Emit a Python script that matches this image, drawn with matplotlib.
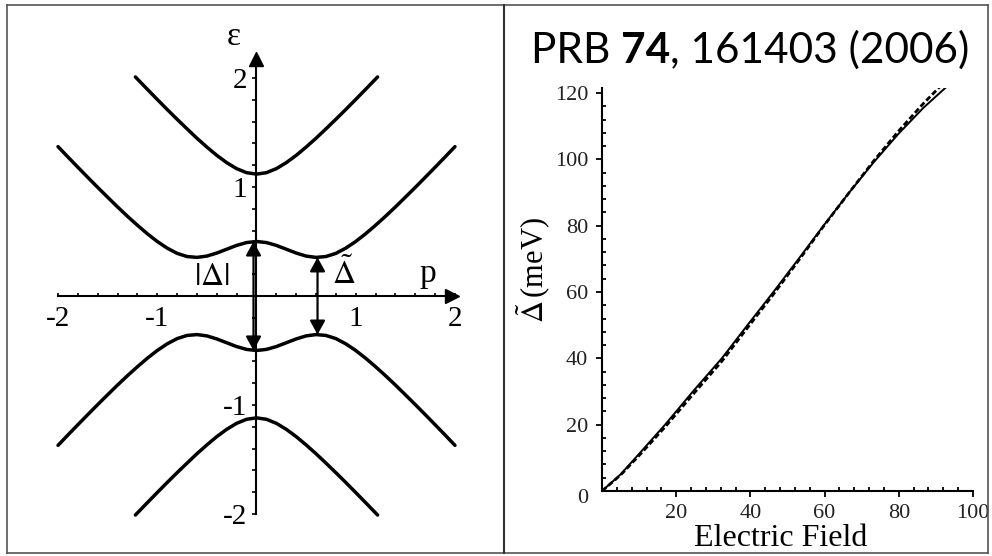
import numpy as np
import matplotlib
matplotlib.use("Agg")
import matplotlib.pyplot as plt
from matplotlib.ticker import MultipleLocator, FixedLocator

plt.rcParams['font.family'] = ['Liberation Serif', 'DejaVu Serif']
plt.rcParams['mathtext.fontset'] = 'stix'

# --- left panel: bands (p >= 0, curves are symmetric) ---
p_low = [0.0, 0.1, 0.2, 0.3, 0.4, 0.5, 0.6, 0.7, 0.8, 0.9, 1.0,
         1.1, 1.2, 1.3, 1.4, 1.5, 1.6, 1.7, 1.8, 1.9, 2.0]
eps_low = [0.500, 0.490, 0.464, 0.429, 0.394, 0.366, 0.354, 0.362, 0.391, 0.439, 0.500,
           0.571, 0.649, 0.731, 0.817, 0.906, 0.996, 1.088, 1.181, 1.275, 1.370]
p_high = [0.0, 0.1, 0.2, 0.3, 0.4, 0.5, 0.6, 0.7, 0.8, 0.9, 1.0, 1.1, 1.2, 1.22]
eps_high = [1.118, 1.131, 1.168, 1.223, 1.290, 1.366, 1.447, 1.533, 1.621, 1.711, 1.803,
            1.896, 1.990, 2.009]

gap_p0 = 0.5        # |Delta| at p = 0
gap_min = 0.354     # Delta tilde
p_min = 0.615

p_ticks = [-2, -1, 1, 2]
eps_ticks = [-2, -1, 1, 2]

# --- right panel: gap vs field ---
field_solid = [0, 5, 10, 17, 24.5, 32.3, 39.2, 46.2, 53, 59.7, 66.5, 73.3, 80, 86.6, 93.5]
gap_solid = [0, 5, 11.2, 20, 30, 40, 50, 60, 70, 80, 89.8, 99.2, 107.8, 115.5, 122.5]
field_dash = [0, 5, 10, 17, 24.5, 32.3, 39.2, 46.2, 53, 59.7, 66.5, 73.3, 80, 86.6, 92.5]
gap_dash = [0, 4.8, 10.7, 19.3, 29.1, 39.1, 49.2, 59.3, 69.5, 79.8, 89.8, 99.6, 108.6, 116.8, 123.5]

W, H = 992, 556
fig = plt.figure(figsize=(W / 100, H / 100), dpi=100)

# frame around everything + divider
col_frame = '#555555'
fig.add_artist(plt.Line2D([7 / W, 988 / W], [1 - 5 / H, 1 - 5 / H], color=col_frame, lw=1.2))
fig.add_artist(plt.Line2D([7 / W, 7 / W], [1 - 5 / H, 1 - 553 / H], color=col_frame, lw=1.2))
fig.add_artist(plt.Line2D([988 / W, 988 / W], [1 - 5 / H, 1 - 553 / H], color=col_frame, lw=1.2))
fig.add_artist(plt.Line2D([7 / W, 988 / W], [1 - 553 / H, 1 - 553 / H], color=col_frame, lw=1.2))
fig.add_artist(plt.Line2D([504 / W, 504 / W], [1 - 5 / H, 1 - 553 / H], color='#333333', lw=1.5))

# ---------------- left panel ----------------
ax = fig.add_axes([8 / W, 6 / H, 495 / W, 544 / H])
ax.set_xlim(-2.504, 2.484)
ax.set_ylim(-2.33, 2.66)
ax.patch.set_visible(False)
for s in ['top', 'right']:
    ax.spines[s].set_visible(False)
ax.spines['left'].set_position(('data', 0))
ax.spines['bottom'].set_position(('data', 0))
ax.spines['left'].set_bounds(-2, 2.12)
ax.spines['bottom'].set_bounds(-2, 1.92)
ax.spines['left'].set_linewidth(1.5)
ax.spines['bottom'].set_linewidth(1.5)
ax.plot(0, 2.17, marker='^', ms=10, color='k', clip_on=False)
ax.plot(1.97, 0, marker='>', ms=10, color='k', clip_on=False)

ax.xaxis.set_major_locator(FixedLocator(p_ticks))
ax.set_xticklabels([str(t) for t in p_ticks])
ax.xaxis.set_minor_locator(FixedLocator(np.arange(-2, 1.9, 0.2)))
ax.yaxis.set_major_locator(FixedLocator(eps_ticks))
ax.set_yticklabels([str(t) for t in eps_ticks])
ax.yaxis.set_minor_locator(FixedLocator(np.arange(-2, 2.1, 0.2)))
ax.tick_params(axis='x', which='both', direction='in', length=2.5, width=1.2,
               labelsize=21, pad=7)
ax.tick_params(axis='y', which='both', direction='out', length=3, width=1.2,
               labelsize=21, pad=4)

pl = np.array(p_low)
el = np.array(eps_low)
ph = np.array(p_high)
eh = np.array(eps_high)
px_low = np.concatenate([-pl[::-1], pl[1:]])
ey_low = np.concatenate([el[::-1], el[1:]])
px_high = np.concatenate([-ph[::-1], ph[1:]])
ey_high = np.concatenate([eh[::-1], eh[1:]])
for sign in (1, -1):
    ax.plot(px_low, sign * ey_low, color='k', lw=2.5, solid_capstyle='round')
    ax.plot(px_high, sign * ey_high, color='k', lw=2.5, solid_capstyle='round')

arrow_kw = dict(arrowstyle='<|-|>,head_length=0.6,head_width=0.33', color='k',
                lw=1.6, mutation_scale=14, shrinkA=0, shrinkB=0)
ax.annotate('', xy=(-0.03, gap_p0), xytext=(-0.03, -gap_p0), arrowprops=arrow_kw)
ax.annotate('', xy=(p_min, gap_min), xytext=(p_min, -gap_min), arrowprops=arrow_kw)

ax.text(-0.23, 2.38, '\u03b5', fontsize=24, ha='center', va='center')
ax.text(1.73, 0.2, 'p', fontsize=24, ha='center', va='center')
ax.text(-0.45, 0.17, r'$|\Delta|$', fontsize=23, ha='center', va='center')
ax.text(0.88, 0.2, r'$\tilde{\Delta}$', fontsize=23, ha='center', va='center')

# ---------------- right panel ----------------
ax2 = fig.add_axes([602 / W, 65 / H, 371 / W, 403 / H])
ax2.set_xlim(0, 100)
ax2.set_ylim(0, 121.5)
for s in ['top', 'right']:
    ax2.spines[s].set_visible(False)
for s in ['left', 'bottom']:
    ax2.spines[s].set_linewidth(1.5)
ax2.plot(field_dash, gap_dash, color='k', lw=2.0, ls=(0, (2.0, 1.0)))
ax2.plot(field_solid, gap_solid, color='k', lw=1.4)
ax2.set_xticks([20, 40, 60, 80, 100])
ax2.set_yticks([20, 40, 60, 80, 100, 120])
ax2.xaxis.set_minor_locator(MultipleLocator(4))
ax2.yaxis.set_minor_locator(MultipleLocator(4))
ax2.tick_params(which='major', direction='out', length=4, width=1.3,
                labelsize=16, labelcolor='#222222')
ax2.tick_params(which='minor', direction='in', length=3, width=1.3)
ax2.tick_params(axis='x', pad=5)
ax2.tick_params(axis='y', pad=6)
ax2.text(-5.1, -2.4, '0', fontsize=16, color='#222222', ha='center', va='center',
         clip_on=False)

fig.text(781 / W, 1 - 539 / H, 'Electric Field', fontsize=23, ha='center', va='center')
fig.text(534 / W, 1 - 270 / H, r'$\tilde{\Delta}\,$(meV)', fontsize=22, rotation=90,
         ha='center', va='center')

# title with bold volume number
fig.canvas.draw()
renderer = fig.canvas.get_renderer()
x0 = 531 / W
yb = 1 - 63 / H
parts = [('PRB ', 'normal'), ('74', 'bold'), (', 161403 (2006)', 'normal')]
for txt, wt in parts:
    t = fig.text(x0, yb, txt, fontsize=30.5, fontweight=wt, family='Lato',
                 ha='left', va='baseline')
    bb = t.get_window_extent(renderer)
    x0 += bb.width / W

fig.savefig('out.png', dpi=100)
